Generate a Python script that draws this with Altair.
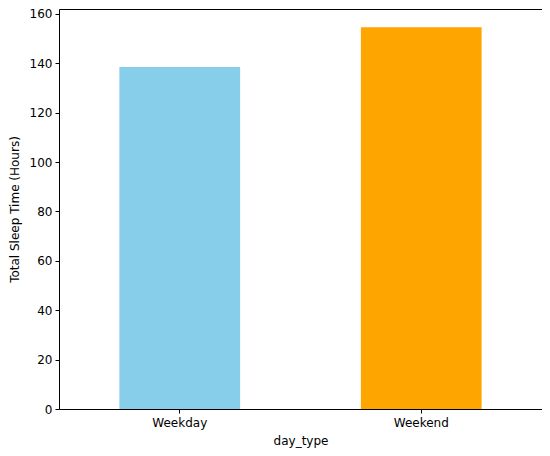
import altair as alt
import pandas as pd

day_types = ["Weekday", "Weekend"]
sleep_hours = [138.5, 154.6]
colors = ["#87CEEB", "#FFA500"]

df = pd.DataFrame({"day_type": day_types, "hours": sleep_hours})

font = "DejaVu Sans"

chart = alt.Chart(df).mark_bar().encode(
    x=alt.X("day_type:N", title="day_type",
            scale=alt.Scale(paddingInner=0.5, paddingOuter=0.25),
            axis=alt.Axis(labelAngle=0, labelFontSize=12, titleFontSize=12,
                          tickSize=4, labelPadding=4, titlePadding=7,
                          domain=False, ticks=True, tickColor="#000",
                          labelColor="#000", titleColor="#000",
                          labelFont=font, titleFont=font, titleFontWeight="normal")),
    y=alt.Y("hours:Q", title="Total Sleep Time (Hours)",
            scale=alt.Scale(domain=[0, 162], nice=False),
            axis=alt.Axis(values=[0, 20, 40, 60, 80, 100, 120, 140, 160],
                          labelFontSize=12, titleFontSize=12, tickSize=4,
                          labelPadding=3, titlePadding=8, grid=False,
                          domain=False, tickColor="#000",
                          labelColor="#000", titleColor="#000",
                          labelFont=font, titleFont=font, titleFontWeight="normal")),
    color=alt.Color("day_type:N", scale=alt.Scale(domain=day_types, range=colors), legend=None),
).properties(
    width=483, height=400,
    autosize=alt.AutoSizeParams(type="none"),
    padding={"left": 51, "top": 1, "right": 0, "bottom": 40},
).configure_view(
    stroke="#000", strokeWidth=1
)

chart.save("out.html", embed_options={"renderer": "svg", "actions": False})
